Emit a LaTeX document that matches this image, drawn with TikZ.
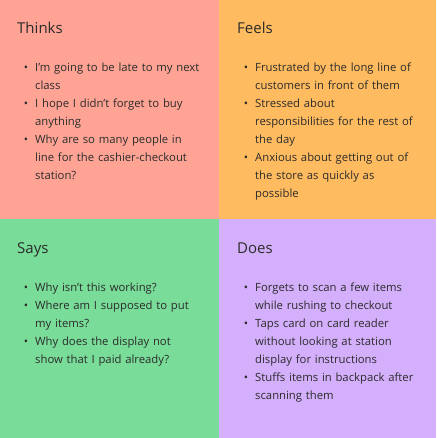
\documentclass[tikz,border=0pt]{standalone}
\usepackage{fontspec}
\setmainfont{Open Sans}
\usepackage{enumitem}
\usetikzlibrary{positioning}
\definecolor{thinkred}{HTML}{FFA495}
\definecolor{feelorange}{HTML}{FFBB5F}
\definecolor{saygreen}{HTML}{79DC98}
\definecolor{doespurple}{HTML}{D4AFFB}
\definecolor{inkgray}{HTML}{2B2B2B}
\setlist[itemize]{label=\textbullet, leftmargin=18pt, labelsep=7pt, topsep=0pt, itemsep=0pt, parsep=0pt, partopsep=0pt}

\begin{document}
\begin{tikzpicture}[x=1pt, y=1pt, every node/.style={text=inkgray}]
\tikzstyle{quad}=[draw=none, inner sep=0pt, outer sep=0pt, minimum width=218.5pt, minimum height=219pt, anchor=south west]
\tikzstyle{head}=[inner sep=0pt, anchor=base west, text height=11pt, text depth=3pt, font=\fontsize{15}{18}\selectfont]
\tikzstyle{blist}=[inner sep=0pt, anchor=north west, text width=200pt, font=\fontsize{11.3}{18}\selectfont]
\useasboundingbox (0,0) rectangle (436,438);
% four quadrants of the empathy map
\node[quad, fill=thinkred] (thinks) at (0,219) {};
\node[quad, fill=feelorange, minimum width=217.5pt] (feels) at (218.5,219) {};
\node[quad, fill=saygreen] (says) at (0,0) {};
\node[quad, fill=doespurple, minimum width=217.5pt] (does) at (218.5,0) {};
% headings
\node[head] (thinkshead) at (17,404) {Thinks};
\node[head] (feelshead) at (237,404) {Feels};
\node[head] (sayshead) at (17,184) {Says};
\node[head] (doeshead) at (237,184) {Does};
% bullet lists
\node[blist, below=16pt of thinkshead.south west, anchor=north west] (thinkslist) {%
\begin{itemize}
\item I'm going to be late to my next\\class
\item I hope I didn't forget to buy\\anything
\item Why are so many people in\\line for the cashier-checkout\\station?
\end{itemize}};
\node[blist, below=16pt of feelshead.south west, anchor=north west] (feelslist) {%
\begin{itemize}
\item Frustrated by the long line of\\customers in front of them
\item Stressed about\\responsibilities for the rest of\\the day
\item Anxious about getting out of\\the store as quickly as\\possible
\end{itemize}};
\node[blist, below=16pt of sayshead.south west, anchor=north west] (sayslist) {%
\begin{itemize}
\item Why isn't this working?
\item Where am I supposed to put\\my items?
\item Why does the display not\\show that I paid already?
\end{itemize}};
\node[blist, below=16pt of doeshead.south west, anchor=north west] (doeslist) {%
\begin{itemize}
\item Forgets to scan a few items\\while rushing to checkout
\item Taps card on card reader\\without looking at station\\display for instructions
\item Stuffs items in backpack after\\scanning them
\end{itemize}};
\end{tikzpicture}
\end{document}
